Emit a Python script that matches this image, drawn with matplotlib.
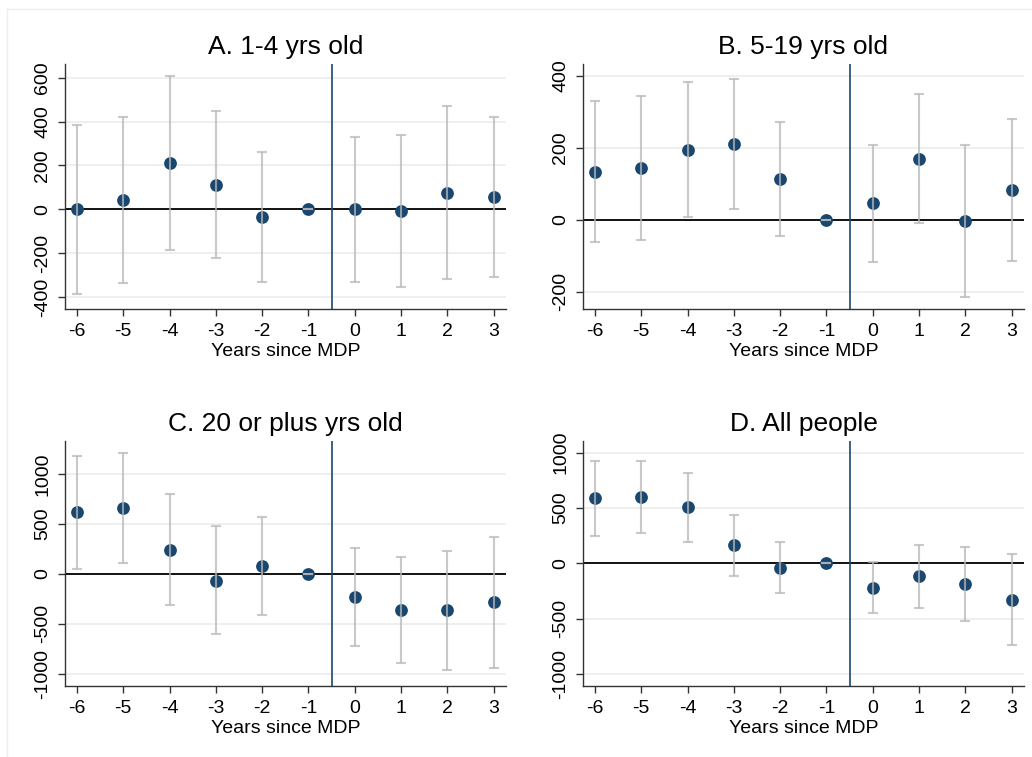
import matplotlib
matplotlib.use("Agg")
import matplotlib.pyplot as plt
from matplotlib.lines import Line2D

plt.rcParams['font.family'] = ['Liberation Sans', 'DejaVu Sans']
plt.rcParams['axes.unicode_minus'] = False

years = [-6, -5, -4, -3, -2, -1, 0, 1, 2, 3]

# point estimates and 95% CI bounds
a_est = [0, 42, 210, 111, -35, 0, 0, -8, 76, 56]
a_hi = [384, 422, 608, 447, 263, 0, 331, 339, 471, 421]
a_lo = [-386, -337, -185, -223, -331, 0, -331, -352, -317, -307]

b_est = [134, 144, 194, 211, 113, 0, 46, 170, -3, 84]
b_hi = [331, 343, 383, 390, 272, 0, 208, 351, 208, 281]
b_lo = [-61, -55, 7, 31, -44, 0, -118, -10, -214, -114]

c_est = [616, 656, 243, -67, 80, 0, -230, -363, -363, -286]
c_hi = [1181, 1208, 799, 476, 566, 0, 263, 166, 233, 369]
c_lo = [53, 106, -313, -606, -409, 0, -719, -895, -958, -938]

d_est = [587, 596, 506, 163, -42, 0, -220, -117, -190, -328]
d_hi = [928, 922, 816, 440, 190, 0, 15, 169, 145, 84]
d_lo = [250, 274, 196, -111, -271, 0, -446, -401, -524, -738]

titles = ["A. 1-4 yrs old", "B. 5-19 yrs old", "C. 20 or plus yrs old", "D. All people"]
yticks = [[-400, -200, 0, 200, 400, 600],
          [-200, 0, 200, 400],
          [-1000, -500, 0, 500, 1000],
          [-1000, -500, 0, 500, 1000]]
ylims = [(-454, 662), (-248, 433), (-1121, 1328), (-1108, 1105)]

panels = [(a_est, a_lo, a_hi), (b_est, b_lo, b_hi), (c_est, c_lo, c_hi), (d_est, d_lo, d_hi)]

navy = "#1a476f"
W, H = 1032, 757
# axes boxes in pixels: left, top, right, bottom
boxes = [(65, 64, 506, 309), (583, 64, 1024, 309),
         (65, 441, 506, 686), (583, 441, 1024, 686)]

fig = plt.figure(figsize=(W / 100, H / 100), dpi=100)

# faint outer frame of the graph region
fig.add_artist(Line2D([7 / W, 1], [1 - 9 / H, 1 - 9 / H], color="#eeeeee", lw=1))
fig.add_artist(Line2D([7 / W, 7 / W], [0, 1 - 9 / H], color="#eeeeee", lw=1))

for i, (est, lo, hi) in enumerate(panels):
    l, t, r, b = boxes[i]
    ax = fig.add_axes([l / W, 1 - b / H, (r - l) / W, (b - t) / H])
    for yt in yticks[i]:
        ax.axhline(yt, color="#ececec", lw=1.2, zorder=0)
    ax.axhline(0, color="black", lw=1.3, zorder=1)
    ax.axvline(-0.5, color=navy, lw=1.2, zorder=1)
    ax.plot(years, est, "o", color=navy, markersize=9.2, markeredgewidth=0, zorder=3)
    err = [[e - lo_ for e, lo_ in zip(est, lo)], [hi_ - e for e, hi_ in zip(est, hi)]]
    ax.errorbar(years, est, yerr=err, fmt="none", ecolor="#b8b8b8", alpha=0.75,
                elinewidth=1.5, capsize=3.5, capthick=1.5, zorder=4)
    ax.set_xlim(-6.26, 3.27)
    ax.set_ylim(*ylims[i])
    ax.set_xticks(years)
    ax.set_yticks(yticks[i])
    ax.set_yticklabels([str(v) for v in yticks[i]], rotation=90, va="center")
    ax.tick_params(labelsize=14, length=5, width=1, color="#333333", pad=5)
    for s in ["top", "right"]:
        ax.spines[s].set_visible(False)
    for s in ["left", "bottom"]:
        ax.spines[s].set_linewidth(1)
        ax.spines[s].set_color("#333333")
    ax.set_xlabel("Years since MDP", fontsize=14, labelpad=2)
    ax.set_title(titles[i], fontsize=19, pad=7)

fig.savefig("out.png", dpi=100)
